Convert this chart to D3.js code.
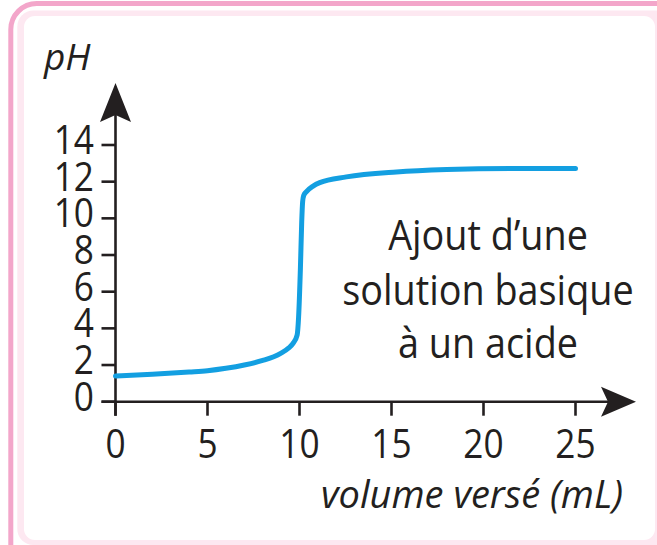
<!DOCTYPE html>
<html>
<head>
<meta charset="utf-8">
<script src="https://cdn.jsdelivr.net/npm/d3@7"></script>
<style>
  html, body { margin: 0; padding: 0; background: #fff; }
  svg { display: block; }
  text { font-family: "Open Sans", "Noto Sans", sans-serif; fill: #231f20; }
</style>
</head>
<body>
<svg id="chart" width="657" height="545"></svg>
<script>
// titration curve
const volume = [0, 2, 4, 5, 6, 7, 8, 8.6, 9, 9.4, 9.65, 9.87, 9.95, 10.05, 10.12, 10.17, 10.23, 10.38, 10.74, 11.1, 12.55, 15.27, 18, 21.6, 25];
const pH     = [1.40, 1.50, 1.62, 1.69, 1.82, 2.0, 2.25, 2.45, 2.65, 2.92, 3.18, 3.63, 4.6, 7.3, 9.8, 10.9, 11.25, 11.46, 11.76, 11.95, 12.26, 12.53, 12.66, 12.72, 12.72];

const xTicks = [0, 5, 10, 15, 20, 25];
const yTicks = [0, 2, 4, 6, 8, 10, 12, 14];
const noteLines = ['Ajout d\u2019une', 'solution basique', '\u00e0 un acide'];

const svg = d3.select('svg#chart');

const axisColor = '#231f20',
    curveColor = '#139fe1',
    pinkDark = '#f3a6ca',
    pinkLight = '#fde8f1',
    tickLen = 14,
    tickFont = 41,
    narrow = 0.86;   // Open Sans is wider than the original font

const x = d3.scaleLinear().domain([0, 25]).range([115.5, 575.5]);
const y = d3.scaleLinear().domain([0, 14]).range([401.7, 145]);

drawFrame();
drawAxes();
drawCurve();
drawLabels();

/**
 * Pink rounded frame
 */
function drawFrame() {
    svg.append('rect')
        .attr('x', 10.8).attr('y', 3.5)
        .attr('width', 700).attr('height', 600)
        .attr('rx', 26)
        .attr('fill', 'none')
        .attr('stroke', pinkDark)
        .attr('stroke-width', 5);
    svg.append('rect')
        .attr('x', 17.3).attr('y', 10.5)
        .attr('width', 700).attr('height', 534.5)
        .attr('rx', 16)
        .attr('fill', pinkLight);
    svg.append('rect')
        .attr('x', 24).attr('y', 16)
        .attr('width', 631).attr('height', 524)
        .attr('rx', 11)
        .attr('fill', '#fff');
}

/**
 * Axes with arrow heads
 */
function drawAxes() {
    const x0 = x(0), y0 = y(0);
    const g = svg.append('g').attr('stroke', axisColor).attr('stroke-width', 2.6);

    // both axis lines pass the origin by one tick length
    g.append('line').attr('x1', x0 - tickLen).attr('x2', 620).attr('y1', y0).attr('y2', y0);
    g.append('line').attr('x1', x0).attr('x2', x0).attr('y1', y0 + tickLen).attr('y2', 100);

    xTicks.forEach(v => {
        g.append('line').attr('x1', x(v)).attr('x2', x(v)).attr('y1', y0).attr('y2', y0 + tickLen);
    });
    yTicks.forEach(v => {
        g.append('line').attr('x1', x0 - tickLen).attr('x2', x0).attr('y1', y(v)).attr('y2', y(v));
    });

    // arrow heads with a concave back
    const tipX = 636, tipY = 83;
    svg.append('path')
        .attr('d', `M${tipX},${y0} L${tipX - 35},${y0 - 15} L${tipX - 28},${y0} L${tipX - 35},${y0 + 15} Z`)
        .attr('fill', axisColor);
    svg.append('path')
        .attr('d', `M${x0},${tipY} L${x0 - 15.5},${tipY + 39} L${x0},${tipY + 32} L${x0 + 15.5},${tipY + 39} Z`)
        .attr('fill', axisColor);
}

/**
 * pH curve
 */
function drawCurve() {
    const pts = volume.map((v, i) => [v, pH[i]]);
    const line = d3.line()
        .x(d => x(d[0]))
        .y(d => y(d[1]))
        .curve(d3.curveMonotoneX);
    svg.append('path')
        .attr('d', line(pts))
        .attr('fill', 'none')
        .attr('stroke', curveColor)
        .attr('stroke-width', 5)
        .attr('stroke-linecap', 'round')
        .attr('stroke-linejoin', 'round');
}

/**
 * Text squeezed horizontally around its anchor point
 */
function addText(str, px, py, anchor, size, sx, italic) {
    const t = svg.append('g')
        .attr('transform', `translate(${px},${py}) scale(${sx},1)`)
        .append('text')
        .text(str)
        .attr('text-anchor', anchor)
        .style('font-size', size + 'px');
    if (italic) t.style('font-style', 'italic');
    return t;
}

/**
 * Tick labels, axis titles and the note
 */
function drawLabels() {
    yTicks.forEach(v => addText(v, 94, y(v) + 9, 'end', tickFont, narrow));
    xTicks.forEach(v => addText(v, x(v), 458, 'middle', tickFont, narrow));

    addText('pH', 44, 70, 'start', 37, 1, true);
    addText('volume vers\u00e9 (mL)', 623, 508, 'end', 38, 1, true);

    const noteY = [250, 305, 358];
    noteLines.forEach((t, i) => addText(t, 488, noteY[i], 'middle', 42, 0.9));
}
</script>
</body>
</html>
